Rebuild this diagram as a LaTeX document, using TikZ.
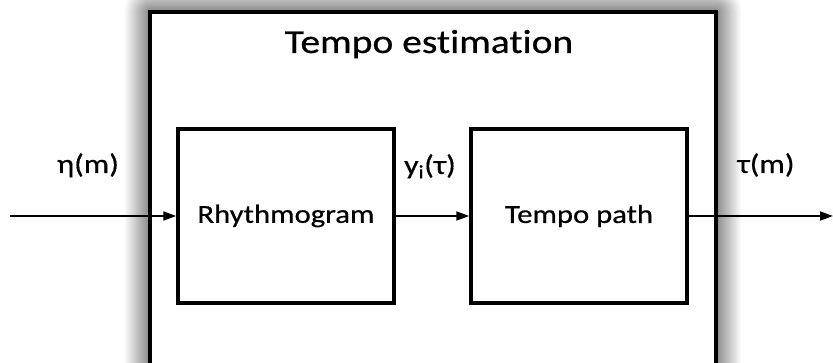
\documentclass[tikz,border=0pt]{standalone}
\usepackage{fontspec}
\setmainfont{Carlito}[FakeStretch=1.18,FakeBold=0.6,Ligatures=NoCommon]
\usetikzlibrary{arrows.meta,shadows.blur}

\begin{document}
\begin{tikzpicture}[x=1pt,y=-1pt,
  frame/.style={draw=black,line width=4pt,fill=white,inner sep=0pt,
    minimum width=566pt,minimum height=353pt},
  block/.style={draw=black,line width=3.5pt,fill=white,inner sep=0pt,
    minimum width=216pt,minimum height=174pt,
    font=\fontsize{26}{30}\selectfont},
  sig/.style={draw=black,line width=1.8pt,-{Triangle[length=13pt,width=9pt]}},
  lbl/.style={font=\fontsize{27}{30}\selectfont,anchor=base,inner sep=0pt},
  ttl/.style={font=\fontsize{33.5}{38}\selectfont,anchor=base,inner sep=0pt},
]
\useasboundingbox (0,0) rectangle (833,363);
\begin{scope}
  \clip (0,0) rectangle (833,363);
  % enclosing system with its soft shadow
  \node[frame,blur shadow={shadow xshift=0pt,shadow yshift=0pt,
        shadow blur radius=26pt,shadow blur steps=30,shadow opacity=95}]
        (sys) at (433,188.5) {};
  \node[ttl] (title) at (429,53) {Tempo estimation};

  % processing blocks
  \node[block] (rhy) at (286,216) {\raisebox{-3pt}{Rhythmogram}};
  \node[block] (tp)  at (579,216) {\raisebox{-3pt}{Tempo path}};

  % signal end points
  \coordinate (src) at (10,216);
  \coordinate (dst) at (833,216);

  % signal flow
  \draw[sig] (src) -- (rhy.west);
  \draw[sig] (rhy.east) -- (tp.west);
  \draw[sig] (tp.east) -- (dst);

  % signal labels
  \node[lbl] (lin)  at (88,173)  {η(m)};
  \node[lbl] (lmid) at (430,174) {y\textsubscript{i}(τ)};
  \node[lbl] (lout) at (766,173) {τ(m)};
\end{scope}
\end{tikzpicture}
\end{document}
